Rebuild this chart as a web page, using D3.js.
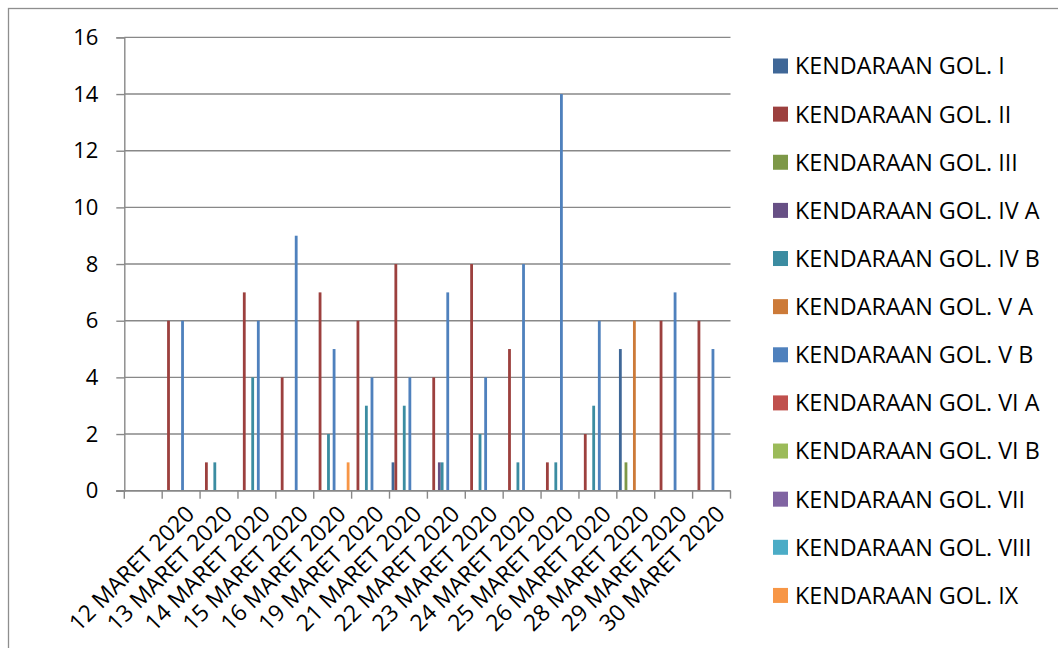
<!DOCTYPE html>
<html>
<head>
<meta charset="utf-8">
<script src="https://cdn.jsdelivr.net/npm/d3@7"></script>
<style>
  html, body { margin: 0; padding: 0; background: #fff; }
  svg { display: block; }
  text { font-family: "Open Sans", sans-serif; fill: #000; }
</style>
</head>
<body>
<svg id="chart" width="1058" height="648"></svg>
<script>
const categories = ["", "12 MARET 2020", "13 MARET 2020", "14 MARET 2020", "15 MARET 2020",
  "16 MARET 2020", "19 MARET 2020", "21 MARET 2020", "22 MARET 2020", "23 MARET 2020",
  "24 MARET 2020", "25 MARET 2020", "26 MARET 2020", "28 MARET 2020", "29 MARET 2020",
  "30 MARET 2020"];

const seriesNames = ["KENDARAAN GOL. I", "KENDARAAN GOL. II", "KENDARAAN GOL. III",
  "KENDARAAN GOL. IV A", "KENDARAAN GOL. IV B", "KENDARAAN GOL. V A", "KENDARAAN GOL. V B",
  "KENDARAAN GOL. VI A", "KENDARAAN GOL. VI B", "KENDARAAN GOL. VII", "KENDARAAN GOL. VIII",
  "KENDARAAN GOL. IX"];

const golI    = [0, 0, 0, 0, 0, 0, 0, 1, 0, 0, 0, 0, 0, 5, 0, 0];
const golII   = [0, 6, 1, 7, 4, 7, 6, 8, 4, 8, 5, 1, 2, 0, 6, 6];
const golIII  = [0, 0, 0, 0, 0, 0, 0, 0, 0, 0, 0, 0, 0, 1, 0, 0];
const golIVA  = [0, 0, 0, 0, 0, 0, 0, 0, 1, 0, 0, 0, 0, 0, 0, 0];
const golIVB  = [0, 0, 1, 4, 0, 2, 3, 3, 1, 2, 1, 1, 3, 0, 0, 0];
const golVA   = [0, 0, 0, 0, 0, 0, 0, 0, 0, 0, 0, 0, 0, 6, 0, 0];
const golVB   = [0, 6, 0, 6, 9, 5, 4, 4, 7, 4, 8, 14, 6, 0, 7, 5];
const golVIA  = [0, 0, 0, 0, 0, 0, 0, 0, 0, 0, 0, 0, 0, 0, 0, 0];
const golVIB  = [0, 0, 0, 0, 0, 0, 0, 0, 0, 0, 0, 0, 0, 0, 0, 0];
const golVII  = [0, 0, 0, 0, 0, 0, 0, 0, 0, 0, 0, 0, 0, 0, 0, 0];
const golVIII = [0, 0, 0, 0, 0, 0, 0, 0, 0, 0, 0, 0, 0, 0, 0, 0];
const golIX   = [0, 0, 0, 0, 0, 1, 0, 0, 0, 0, 0, 0, 0, 0, 0, 0];

const yTicks = [0, 2, 4, 6, 8, 10, 12, 14, 16];

const colors = ["#3F6797", "#9C403E", "#7D9847", "#675085", "#3B8CA1", "#CC7A38",
  "#4F81BD", "#C0504D", "#9BBB59", "#8064A2", "#4BACC6", "#F79646"];

const seriesValues = [golI, golII, golIII, golIVA, golIVB, golVA, golVB, golVIA, golVIB, golVII, golVIII, golIX];

const svg = d3.select("#chart");

// outer chart border
svg.append("rect")
  .attr("x", 8.5).attr("y", 8.5).attr("width", 1100).attr("height", 700)
  .attr("fill", "none").attr("stroke", "#8e8e8e").attr("stroke-width", 1.3);

const plotL = 124.3, plotR = 730.5, plotT = 37.4, plotB = 490.7;

const x0 = d3.scaleBand().domain(d3.range(categories.length)).range([plotL, plotR]).padding(0);
const x1 = d3.scaleBand().domain(d3.range(seriesNames.length)).range([0, x0.bandwidth()])
  .paddingInner(0).paddingOuter(0.75);
const y = d3.scaleLinear().domain([0, 16]).range([plotB, plotT]);

// gridlines
svg.append("g").selectAll("line").data(yTicks).join("line")
  .attr("x1", plotL).attr("x2", plotR)
  .attr("y1", d => y(d)).attr("y2", d => y(d))
  .attr("stroke", "#888").attr("stroke-width", 1.4);

// y axis
const yAxis = d3.axisLeft(y).tickValues(yTicks).tickSize(8).tickPadding(18);
const gy = svg.append("g").attr("transform", `translate(${plotL},0)`).call(yAxis);
gy.select(".domain").attr("stroke", "#888").attr("stroke-width", 1.4);
gy.selectAll(".tick line").attr("stroke", "#888").attr("stroke-width", 1.4);
gy.selectAll(".tick text").style("font-family", "'Open Sans', sans-serif").style("font-size", "22px").attr("fill", "#000");

// bars
const data = [];
seriesValues.forEach((vals, s) => vals.forEach((v, c) => { if (v > 0) data.push({s, c, v}); }));
svg.append("g").selectAll("rect").data(data).join("rect")
  .attr("x", d => x0(d.c) + x1(d.s))
  .attr("width", x1.bandwidth())
  .attr("y", d => y(d.v))
  .attr("height", d => y(0) - y(d.v))
  .attr("fill", d => colors[d.s]);

// x axis
const xBoundaries = d3.range(categories.length + 1).map(i => plotL + i * x0.step());
const gx = svg.append("g");
gx.append("line").attr("x1", plotL - 8).attr("x2", plotR).attr("y1", plotB).attr("y2", plotB)
  .attr("stroke", "#888").attr("stroke-width", 1.4);
gx.selectAll("line.tk").data(xBoundaries).join("line").attr("class", "tk")
  .attr("x1", d => d).attr("x2", d => d).attr("y1", plotB).attr("y2", plotB + 8)
  .attr("stroke", "#888").attr("stroke-width", 1.4);
gx.selectAll("text").data(categories).join("text")
  .attr("transform", (d, i) => `translate(${x0(i) + x0.bandwidth() / 2 + 9},${plotB + 19}) rotate(-45)`)
  .attr("text-anchor", "end")
  .attr("dy", "0.35em")
  .style("font-size", "23px")
  .text(d => d);

// legend
const legend = svg.append("g");
const lg = legend.selectAll("g").data(seriesNames).join("g")
  .attr("transform", (d, i) => `translate(773,${66 + i * 48.13})`);
lg.append("rect").attr("x", 0).attr("y", -7.5).attr("width", 15).attr("height", 15)
  .attr("fill", (d, i) => colors[i]);
lg.append("text").attr("x", 22).attr("y", 0).attr("dy", "0.36em")
  .style("font-size", "23.3px").text(d => d);
</script>
</body>
</html>
